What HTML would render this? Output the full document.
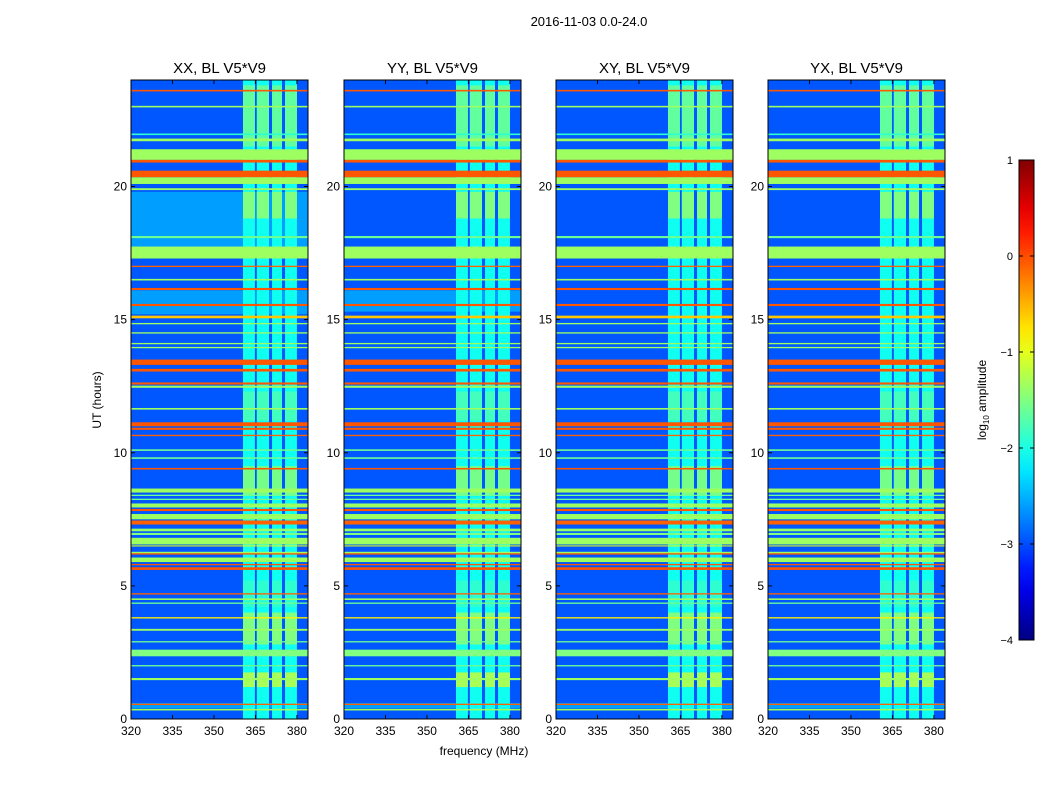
<!DOCTYPE html>
<html><head><meta charset="utf-8"><style>
body{margin:0;background:#fff;}
svg text{font-family:"Liberation Sans",sans-serif;}
</style></head><body>
<svg id="fig" width="1050" height="800" xmlns="http://www.w3.org/2000/svg">
<text x="589" y="26" font-size="13" text-anchor="middle">2016-11-03 0.0-24.0</text>
<text x="484" y="755" font-size="12" text-anchor="middle">frequency (MHz)</text>
<text transform="translate(101,400) rotate(-90)" font-size="12" text-anchor="middle">UT (hours)</text>
<g id="panels"></g>
<g id="cbar"></g>
</svg>
<script>
const panelTitles=["XX, BL V5*V9","YY, BL V5*V9","XY, BL V5*V9","YX, BL V5*V9"];
const freqRange=[320,384];
const hourRange=[0,24];
const xTicks=[320,335,350,365,380];
const yTicks=[0,5,10,15,20];
const bgLevel=-2.95;
const bandLo=[360.5,365.5,371,375.7];
const bandHi=[364.8,369.9,374.6,380];
const bandLevel=-2.05;
const blockStart=[1.2,2.8,8.4,18.8,21.5,11.2,4.2];
const blockEnd=[1.75,4.0,9.5,19.8,23.8,12.3,5.2];
const blockLevel=[-1.3,-1.5,-1.55,-1.5,-1.65,-1.8,-1.9];
const lightStart=[[17.3,15.2,0.4],[15.3,0.4],[0.4],[0.4]];
const lightEnd=[[19.8,16.1,0.6],[16.1,0.6],[0.6],[0.6]];
const lightLevel=-2.6;
const lineHour=[23.6,23.0,21.96,21.75,21.2,20.95,20.47,20.22,19.9,18.1,17.52,17.0,16.5,16.15,15.55,15.1,14.85,14.5,14.1,13.95,13.4,13.1,12.6,12.48,11.65,11.07,10.9,10.65,10.1,9.8,9.4,8.58,8.4,8.25,8.02,7.85,7.6,7.38,7.1,6.95,6.68,6.5,6.25,6.2,5.98,5.8,5.65,4.7,4.5,4.35,3.8,3.35,2.9,2.48,2.0,1.5,0.55,0.35];
const lineHeight=[0.06,0.06,0.06,0.1,0.4,0.1,0.25,0.25,0.07,0.08,0.45,0.05,0.06,0.08,0.08,0.1,0.05,0.05,0.05,0.05,0.2,0.1,0.08,0.08,0.06,0.15,0.08,0.05,0.06,0.06,0.06,0.15,0.05,0.05,0.15,0.08,0.2,0.15,0.1,0.08,0.25,0.04,0.06,0.05,0.17,0.05,0.1,0.05,0.06,0.05,0.05,0.07,0.05,0.25,0.05,0.08,0.05,0.06];
const lineLevel=[-0.05,-1.35,-1.9,-1.35,-1.35,-0.05,-0.05,-1.35,-1.35,-1.6,-1.35,-0.1,-1.35,-0.05,-0.05,-0.6,-1.35,-1.35,-1.35,-1.35,-0.05,-0.05,-0.05,-1.35,-1.35,-0.05,-0.05,-0.1,-1.6,-1.6,-0.05,-1.35,-1.6,-1.6,-1.35,-0.05,-1.35,-0.1,-1.4,-1.5,-1.35,-1.0,-1.35,-0.05,-1.35,-0.05,-0.05,-0.1,-1.35,-1.6,-0.8,-1.35,-1.6,-1.5,-1.6,-1.35,-0.1,-1.35];
const cbTicks=[1,0,-1,-2,-3,-4];
const cbRange=[-4,1];

const NS="http://www.w3.org/2000/svg";
const panelX=[131,344,556,768], panelW=177, panelTop=80, panelBot=719;
function jet(v){let t=(v-cbRange[0])/(cbRange[1]-cbRange[0]);t=Math.max(0,Math.min(1,t));
 const c=x=>Math.round(255*Math.max(0,Math.min(1,1.5-Math.abs(x))));
 return `rgb(${c(4*t-3)},${c(4*t-2)},${c(4*t-1)})`;}
function mk(tag,attrs,parent){const e=document.createElementNS(NS,tag);for(const k in attrs)e.setAttribute(k,attrs[k]);parent.appendChild(e);return e;}
const panels=document.getElementById('panels');
panelTitles.forEach((title,p)=>{
 const x0=panelX[p];
 const xs=f=>x0+(f-freqRange[0])/(freqRange[1]-freqRange[0])*panelW;
 const ys=h=>panelBot-(h-hourRange[0])/(hourRange[1]-hourRange[0])*(panelBot-panelTop);
 const g=mk('g',{},panels);
 
 
 const bg=mk('rect',{x:x0,y:panelTop,width:panelW,height:panelBot-panelTop,fill:jet(bgLevel)},g);
 
 
 lightStart[p].forEach((s,i)=>{const r=mk('rect',{x:x0,y:ys(lightEnd[p][i]),width:panelW,height:ys(s)-ys(lightEnd[p][i]),fill:jet(lightLevel)},g);
  
  });
 bandLo.forEach((lo,i)=>{const r=mk('rect',{x:xs(lo),y:panelTop,width:xs(bandHi[i])-xs(lo),height:panelBot-panelTop,fill:jet(bandLevel)},g);
  
  
  blockStart.forEach((s,j)=>{const b=mk('rect',{x:xs(lo),y:ys(blockEnd[j]),width:xs(bandHi[i])-xs(lo),height:ys(s)-ys(blockEnd[j]),fill:jet(blockLevel[j])},g);
   
   });});
 lineHour.forEach((h,i)=>{const r=mk('rect',{x:x0,y:ys(h+lineHeight[i]/2),width:panelW,height:Math.max(1,ys(h)-ys(h+lineHeight[i])),fill:jet(lineLevel[i])},g);
  
  });
 const fr=mk('rect',{x:x0,y:panelTop,width:panelW,height:panelBot-panelTop,fill:'none',stroke:'#000','stroke-width':1},g);
 
 
 const t=mk('text',{x:x0+panelW/2,y:73,'font-size':15,'text-anchor':'middle'},g);t.textContent=title;
 
 
 xTicks.forEach(v=>{const x=xs(v);mk('line',{x1:x,x2:x,y1:panelBot,y2:panelBot-4,stroke:'#000'},g);mk('line',{x1:x,x2:x,y1:panelTop,y2:panelTop+4,stroke:'#000'},g);
  const l=mk('text',{x:x,y:735,'font-size':12,'text-anchor':'middle'},g);l.textContent=v;
  
  });
 yTicks.forEach(v=>{const y=ys(v);mk('line',{x1:x0,x2:x0+4,y1:y,y2:y,stroke:'#000'},g);mk('line',{x1:x0+panelW,x2:x0+panelW-4,y1:y,y2:y,stroke:'#000'},g);
  const l=mk('text',{x:x0-4,y:y+4,'font-size':12,'text-anchor':'end'},g);l.textContent=v;
  
  });
});
const cb=document.getElementById('cbar');


const cbx=1019,cbw=15,cbTop=160,cbBot=640;
const defs=mk('defs',{},cb);const grad=mk('linearGradient',{id:'jetg',x1:0,y1:1,x2:0,y2:0},defs);
for(let i=0;i<=20;i++){mk('stop',{offset:i/20,'stop-color':jet(cbRange[0]+i/20*(cbRange[1]-cbRange[0]))},grad);}
mk('rect',{x:cbx,y:cbTop,width:cbw,height:cbBot-cbTop,fill:'url(#jetg)',stroke:'#000'},cb);
const cys=v=>cbBot-(v-cbRange[0])/(cbRange[1]-cbRange[0])*(cbBot-cbTop);
cbTicks.forEach(v=>{const y=cys(v);mk('line',{x1:cbx,x2:cbx+4,y1:y,y2:y,stroke:'#000'},cb);mk('line',{x1:cbx+cbw,x2:cbx+cbw-4,y1:y,y2:y,stroke:'#000'},cb);
 const l=mk('text',{x:1013,y:y+4,'font-size':11,'text-anchor':'end'},cb);l.textContent=v<0?'\u2212'+(-v):v;
 
 });
const cl=mk('text',{transform:'translate(986,400) rotate(-90)','font-size':12,'text-anchor':'middle'},cb);
cl.innerHTML='log<tspan font-size="8" dy="3">10</tspan><tspan dy="-3"> amplitude</tspan>';


</script>
</body></html>
